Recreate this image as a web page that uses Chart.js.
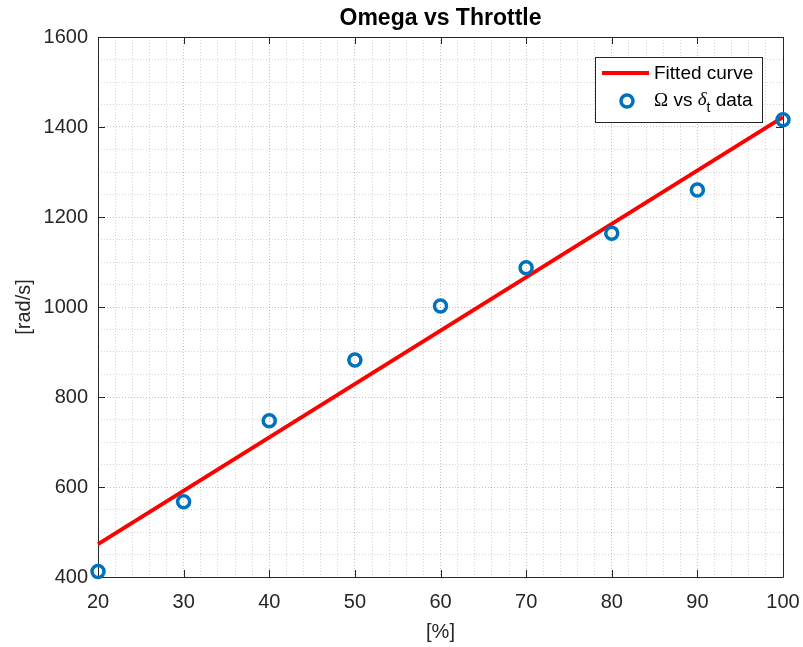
<!DOCTYPE html>
<html>
<head>
<meta charset="utf-8">
<script src="https://cdn.jsdelivr.net/npm/chart.js@4.4.1/dist/chart.umd.min.js"></script>
<style>
  html, body { margin: 0; padding: 0; background: #ffffff; }
  #wrap { position: relative; width: 803px; height: 647px; }
</style>
</head>
<body>
<div id="wrap"><canvas id="c" width="803" height="647"></canvas></div>
<script>
// Throttle setting [%] and measured rotor speed [rad/s]
const throttle = [20, 30, 40, 50, 60, 70, 80, 90, 100];
const omega = [412, 567, 747, 882, 1002, 1087, 1164, 1260, 1416];

// Linear fit endpoints
const fitThrottle = [20, 100];
const fitOmega = [473, 1422];

// Major tick values
const xMajor = [20, 30, 40, 50, 60, 70, 80, 90, 100];
const yMajor = [400, 600, 800, 1000, 1200, 1400, 1600];

const TITLE = 'Omega vs Throttle';
const FONT = "'Liberation Sans', Arial, Helvetica, sans-serif";
const AXIS_COLOR = '#262626';

const dataPts = throttle.map((x, i) => ({ x: x, y: omega[i] }));
const fitPts = fitThrottle.map((x, i) => ({ x: x, y: fitOmega[i] }));

const isMajor = (v, list) => list.some(m => Math.abs(m - v) < 1e-6);

// Axes box with inward ticks on all four sides, plus title centred over the plot
const boxPlugin = {
  id: 'axesBox',
  beforeDatasetsDraw(chart) {
    const { ctx, chartArea: a, scales } = chart;
    const len = 7;
    ctx.save();
    ctx.strokeStyle = AXIS_COLOR;
    ctx.lineWidth = 1;
    ctx.beginPath();
    ctx.rect(Math.round(a.left) + 0.5, Math.round(a.top) + 0.5,
             Math.round(a.right - a.left), Math.round(a.bottom - a.top));
    xMajor.forEach(v => {
      const px = Math.round(scales.x.getPixelForValue(v)) + 0.5;
      ctx.moveTo(px, a.bottom); ctx.lineTo(px, a.bottom - len);
      ctx.moveTo(px, a.top); ctx.lineTo(px, a.top + len);
    });
    yMajor.forEach(v => {
      const py = Math.round(scales.y.getPixelForValue(v)) + 0.5;
      ctx.moveTo(a.left, py); ctx.lineTo(a.left + len, py);
      ctx.moveTo(a.right, py); ctx.lineTo(a.right - len, py);
    });
    ctx.stroke();

    ctx.fillStyle = '#000000';
    ctx.font = 'bold 23px ' + FONT;
    ctx.textAlign = 'center';
    ctx.textBaseline = 'middle';
    ctx.fillText(TITLE, (a.left + a.right) / 2, 19);
    ctx.restore();
  }
};

// Legend box with subscripted label
const legendPlugin = {
  id: 'customLegend',
  afterDraw(chart) {
    const { ctx } = chart;
    const bx = 595.5, by = 57.5, bw = 167, bh = 65;
    ctx.save();
    ctx.fillStyle = '#ffffff';
    ctx.fillRect(bx, by, bw, bh);
    ctx.strokeStyle = AXIS_COLOR;
    ctx.lineWidth = 1;
    ctx.strokeRect(bx, by, bw, bh);

    // line sample
    ctx.strokeStyle = '#ff0000';
    ctx.lineWidth = 4;
    ctx.beginPath();
    ctx.moveTo(602, 73); ctx.lineTo(649, 73);
    ctx.stroke();

    // marker sample
    ctx.strokeStyle = '#0072bd';
    ctx.lineWidth = 3.5;
    ctx.beginPath();
    ctx.arc(627, 101, 6, 0, Math.PI * 2);
    ctx.stroke();

    ctx.fillStyle = '#000000';
    ctx.textBaseline = 'middle';
    ctx.textAlign = 'left';
    ctx.font = '19px ' + FONT;
    ctx.fillText('Fitted curve', 654, 74);

    let x = 654;
    const y = 101;
    ctx.font = "19px 'Liberation Serif', 'DejaVu Serif', serif";
    ctx.fillText('\u03A9', x, y);
    x += ctx.measureText('\u03A9').width;
    ctx.font = '19px ' + FONT;
    ctx.fillText(' vs ', x, y);
    x += ctx.measureText(' vs ').width;
    ctx.font = "italic 19px 'Liberation Serif', 'DejaVu Serif', serif";
    ctx.fillText('\u03B4', x, y - 1);
    x += ctx.measureText('\u03B4').width;
    ctx.font = '14px ' + FONT;
    ctx.fillText('t', x, y + 7);
    x += ctx.measureText('t').width;
    ctx.font = '19px ' + FONT;
    ctx.fillText(' data', x, y);
    ctx.restore();
  }
};

new Chart(document.getElementById('c'), {
  type: 'scatter',
  data: {
    datasets: [
      {
        label: '\u03A9 vs \u03B4t data',
        data: dataPts,
        showLine: false,
        pointStyle: 'circle',
        pointRadius: 6,
        pointHoverRadius: 6,
        pointBorderWidth: 3.5,
        pointBorderColor: '#0072bd',
        pointBackgroundColor: 'rgba(0,0,0,0)',
        clip: false
      },
      {
        type: 'line',
        label: 'Fitted curve',
        data: fitPts,
        borderColor: '#ff0000',
        borderWidth: 4,
        pointRadius: 0,
        fill: false,
        tension: 0,
        clip: false
      }
    ]
  },
  options: {
    responsive: false,
    animation: false,
    devicePixelRatio: 1,
    layout: { padding: { left: 0, right: 0, top: 37, bottom: 0 } },
    plugins: {
      legend: { display: false },
      tooltip: { enabled: false },
      title: { display: false }
    },
    scales: {
      x: {
        type: 'linear',
        min: 20,
        max: 100,
        afterFit(scale) {
          scale.height = 70;
          scale.paddingLeft = 0;
          scale.paddingRight = 20;
        },
        ticks: {
          stepSize: 2,
          autoSkip: false,
          maxRotation: 0,
          padding: 13,
          color: AXIS_COLOR,
          font: { family: FONT, size: 20 },
          callback: v => (isMajor(v, xMajor) ? String(v) : '')
        },
        grid: {
          drawTicks: false,
          lineWidth: 1,
          color: c => (isMajor(c.tick.value, xMajor) ? 'rgba(38,38,38,0.28)' : 'rgba(38,38,38,0.2)')
        },
        border: { display: false, dash: [1, 2] },
        title: {
          display: true,
          text: '[%]',
          color: AXIS_COLOR,
          font: { family: FONT, size: 20 },
          padding: { top: 0, bottom: 3 }
        }
      },
      y: {
        type: 'linear',
        min: 400,
        max: 1600,
        afterFit(scale) { scale.width = 98; },
        ticks: {
          stepSize: 50,
          autoSkip: false,
          maxTicksLimit: 100,
          padding: 10,
          color: AXIS_COLOR,
          font: { family: FONT, size: 20 },
          callback: v => (isMajor(v, yMajor) ? String(v) : '')
        },
        grid: {
          drawTicks: false,
          lineWidth: 1,
          color: c => (isMajor(c.tick.value, yMajor) ? 'rgba(38,38,38,0.28)' : 'rgba(38,38,38,0.2)')
        },
        border: { display: false, dash: [1, 2] },
        title: {
          display: true,
          text: '[rad/s]',
          color: AXIS_COLOR,
          font: { family: FONT, size: 20 },
          padding: { top: 12, bottom: 0 }
        }
      }
    }
  },
  plugins: [boxPlugin, legendPlugin]
});
</script>
</body>
</html>
